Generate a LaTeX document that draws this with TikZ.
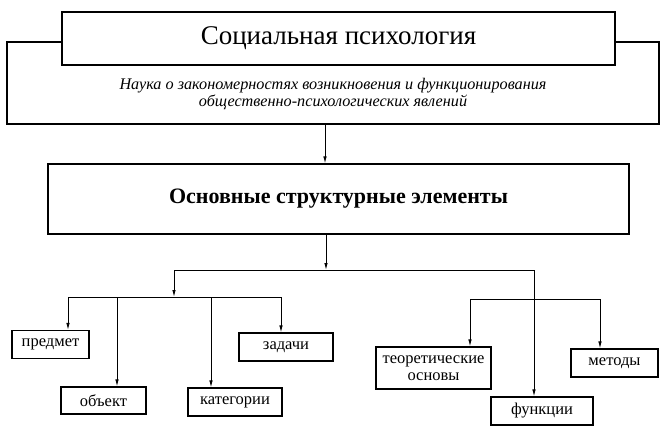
\documentclass[tikz,border=0pt]{standalone}
\usepackage{fontspec}
\setmainfont{Liberation Serif}
\usetikzlibrary{positioning,arrows.meta,calc}

\begin{document}
\begin{tikzpicture}[x=1pt, y=-1pt,
    box/.style={draw, line width=1.2pt, fill=white, inner sep=0pt, align=center},
    item/.style={box, line width=1.1pt, minimum height=28pt, font=\fontsize{16.5}{17}\selectfont},
    link/.style={line width=0.9pt},
    arr/.style={link, -{Latex[length=7pt, width=3.5pt]}}]
    \useasboundingbox (0,0) rectangle (665,444);

    % Outer box with the definition
    \node[box, minimum width=652pt, minimum height=82pt] (about) at (333,83) {};
    \node[font=\fontsize{16.2}{16.5}\selectfont\itshape, align=center] (def) at (333,94)
        {Наука о закономерностях возникновения и функционирования\\
         общественно-психологических явлений};

    % Title box on top of it
    \node[box, line width=1.4pt, minimum width=553pt, minimum height=53pt,
          font=\fontsize{27}{29}\selectfont] (title) at (338.5,38.5) {Социальная психология};

    % Main elements box
    \node[box, minimum width=581pt, minimum height=70pt,
          font=\fontsize{22}{24}\selectfont\bfseries] (core) at (338.5,199) {Основные структурные элементы};

    % Element boxes
    \node[item, minimum width=77pt] (subject) at (50.5,344.5) {предмет};
    \node[item, minimum width=85pt, minimum height=27pt] (object) at (103.5,400.5) {объект};
    \node[item, minimum width=94pt] (categ) at (235,402) {категории};
    \node[item, minimum width=94pt] (tasks) at (286,347) {задачи};
    \node[item, minimum width=115pt, minimum height=42pt] (theory) at (433.5,368) {теоретические\\основы};
    \node[item, minimum width=102pt] (functions) at (542,411) {функции};
    \node[item, minimum width=87pt] (methods) at (614.5,363) {методы};

    % Junction points
    \coordinate (down) at (325,0);
    \coordinate (split) at (326,270);
    \coordinate (left) at (174,270);
    \coordinate (right) at (534,270);
    \coordinate (fork) at (174,297);
    \coordinate (pr) at (68,297);
    \coordinate (ob) at (117,297);
    \coordinate (ka) at (211,297);
    \coordinate (za) at (281,297);
    \coordinate (te) at (470,299);
    \coordinate (me) at (600,299);

    % Top arrows
    \draw[arr] (about.south -| down) -- (core.north -| down);
    \draw[arr] (core.south -| split) -- (split);
    \draw[link] (left) -- (right);
    \draw[arr] (left) -- (fork);

    % Left group
    \draw[link] (pr) -- (za);
    \foreach \c/\n in {pr/subject, ob/object, ka/categ, za/tasks}
        \draw[arr] (\c) -- (\c |- \n.north);

    % Right group
    \draw[link] (te) -- (me);
    \draw[arr] (te) -- (te |- theory.north);
    \draw[arr] (me) -- (me |- methods.north);
    \draw[arr] (right) -- (right |- functions.north);
\end{tikzpicture}
\end{document}
